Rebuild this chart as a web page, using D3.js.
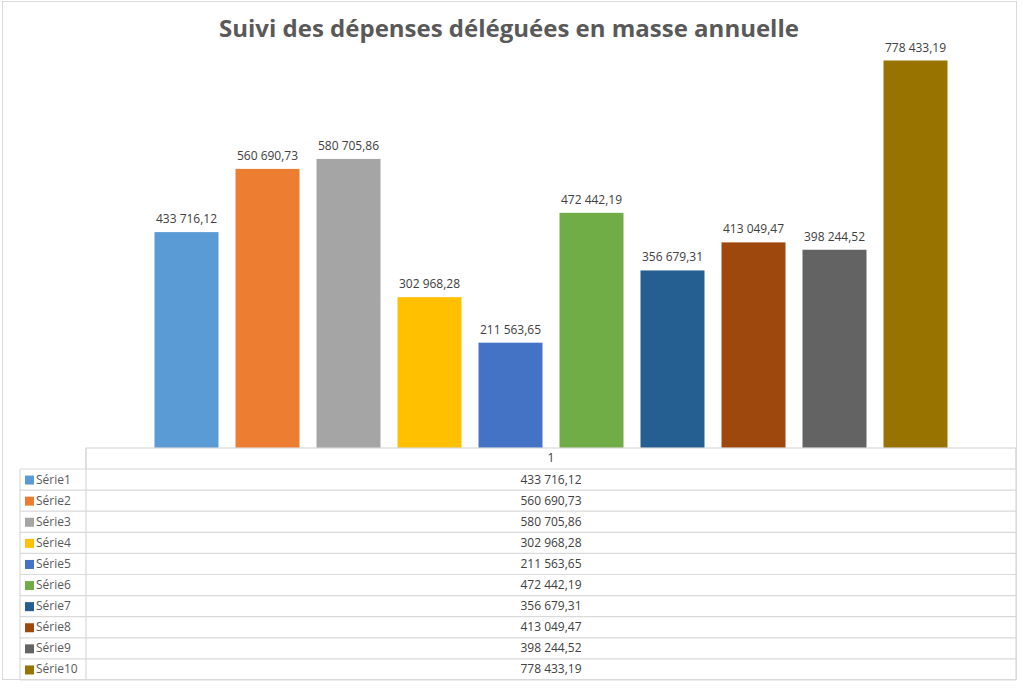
<!DOCTYPE html>
<html>
<head>
<meta charset="utf-8">
<script src="https://cdnjs.cloudflare.com/ajax/libs/d3/7.8.5/d3.min.js"></script>
<style>
  body { margin: 0; background: #fff; }
  text { font-family: "Open Sans", "Noto Sans", sans-serif; }
</style>
</head>
<body>
<div id="chart"></div>
<script>
// data
var series = ["Série1", "Série2", "Série3", "Série4", "Série5", "Série6", "Série7", "Série8", "Série9", "Série10"];
var values = [433716.12, 560690.73, 580705.86, 302968.28, 211563.65, 472442.19, 356679.31, 413049.47, 398244.52, 778433.19];
var colors = ["#5B9BD5", "#ED7D31", "#A5A5A5", "#FFC000", "#4472C4", "#70AD47", "#255E91", "#9E480E", "#636363", "#997300"];
var categories = ["1"];
var title = "Suivi des dépenses déléguées en masse annuelle";

var width = 1024, height = 689;
var gridColor = "#d9d9d9";

// french number format: space thousands, comma decimals
var frFormat = d3.formatLocale({ decimal: ",", thousands: " ", grouping: [3], currency: ["", " €"] }).format(",.2f");

var svg = d3.select("#chart").append("svg")
    .attr("width", width)
    .attr("height", height);

svg.append("rect")
    .attr("width", width).attr("height", height)
    .attr("fill", "#fff");

// chart frame
svg.append("rect")
    .attr("x", 2.5).attr("y", 1.5)
    .attr("width", 1014).attr("height", 678)
    .attr("fill", "none")
    .attr("stroke", gridColor);

// title
svg.append("text")
    .attr("x", 509).attr("y", 37)
    .attr("text-anchor", "middle")
    .attr("font-size", 24)
    .attr("font-weight", "bold")
    .attr("fill", "#595959")
    .text(title);

/*
 *  Bars
 */
var x = d3.scaleBand()
    .domain(series)
    .range([146, 956])
    .paddingInner(0.21)
    .paddingOuter(0.105);

var y = d3.scaleLinear()
    .domain([0, 900000])
    .range([448, 0]);

var bars = svg.append("g");
bars.selectAll("rect")
    .data(values)
    .enter()
    .append("rect")
    .attr("x", function(d, i) { return x(series[i]); })
    .attr("y", function(d) { return y(d); })
    .attr("width", x.bandwidth())
    .attr("height", function(d) { return y(0) - y(d); })
    .attr("fill", function(d, i) { return colors[i]; });

bars.selectAll("text")
    .data(values)
    .enter()
    .append("text")
    .attr("x", function(d, i) { return x(series[i]) + x.bandwidth() / 2; })
    .attr("y", function(d) { return y(d) - 9; })
    .attr("text-anchor", "middle")
    .attr("font-size", 12)
    .attr("fill", "#404040")
    .text(function(d) { return frFormat(d); });

/*
 *  Data table under the chart
 */
var tableLeft = 86, tableRight = 1016, legendLeft = 20;
var headerTop = 448;
var rows = d3.scaleBand()
    .domain(series)
    .range([469, 680]);

var table = svg.append("g")
    .attr("stroke", gridColor)
    .attr("stroke-width", 1.2)
    .attr("fill", "none");

// header box
table.append("rect")
    .attr("x", tableLeft).attr("y", headerTop)
    .attr("width", tableRight - tableLeft)
    .attr("height", rows.range()[0] - headerTop);

// row lines
table.selectAll("line.row")
    .data(series)
    .enter()
    .append("line")
    .attr("class", "row")
    .attr("x1", legendLeft).attr("x2", tableRight)
    .attr("y1", function(d) { return rows(d) + rows.bandwidth(); })
    .attr("y2", function(d) { return rows(d) + rows.bandwidth(); });

table.append("line")
    .attr("x1", legendLeft).attr("x2", tableLeft)
    .attr("y1", rows.range()[0]).attr("y2", rows.range()[0]);

// vertical lines
[legendLeft, tableLeft, tableRight].forEach(function(vx) {
    table.append("line")
        .attr("x1", vx).attr("x2", vx)
        .attr("y1", vx == legendLeft ? rows.range()[0] : headerTop)
        .attr("y2", rows.range()[1]);
});

var colCenter = (tableLeft + tableRight) / 2;

svg.append("text")
    .attr("x", colCenter)
    .attr("y", headerTop + 14)
    .attr("text-anchor", "middle")
    .attr("font-size", 12)
    .attr("fill", "#404040")
    .text(categories[0]);

var cells = svg.append("g");
cells.selectAll("text")
    .data(values)
    .enter()
    .append("text")
    .attr("x", colCenter)
    .attr("y", function(d, i) { return rows(series[i]) + rows.bandwidth() / 2 + 4; })
    .attr("text-anchor", "middle")
    .attr("font-size", 12)
    .attr("fill", "#404040")
    .text(function(d) { return frFormat(d); });

// legend keys in the first column
var legend = svg.append("g");
legend.selectAll("rect")
    .data(series)
    .enter()
    .append("rect")
    .attr("x", 25)
    .attr("y", function(d) { return rows(d) + rows.bandwidth() / 2 - 4; })
    .attr("width", 9)
    .attr("height", 9)
    .attr("fill", function(d, i) { return colors[i]; });

legend.selectAll("text")
    .data(series)
    .enter()
    .append("text")
    .attr("x", 36)
    .attr("y", function(d) { return rows(d) + rows.bandwidth() / 2 + 4; })
    .attr("font-size", 12)
    .attr("fill", "#595959")
    .text(function(d) { return d; });
</script>
</body>
</html>
